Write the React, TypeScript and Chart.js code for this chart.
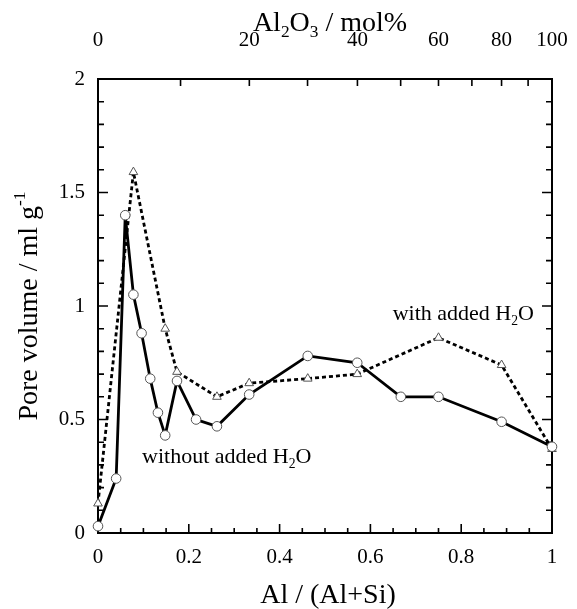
import React, { useEffect, useRef } from "react";
import { Chart, registerables } from "chart.js";

Chart.register(...registerables);

// ---- data ----
const ratioWithout = [0, 0.04, 0.06, 0.078, 0.096, 0.115, 0.132, 0.148, 0.174, 0.216, 0.262, 0.333, 0.462, 0.571, 0.667, 0.75, 0.889, 1];
const poreWithout = [0.03, 0.24, 1.4, 1.05, 0.88, 0.68, 0.53, 0.43, 0.67, 0.5, 0.47, 0.61, 0.78, 0.75, 0.6, 0.6, 0.49, 0.38];

const ratioWith = [0, 0.078, 0.148, 0.174, 0.262, 0.333, 0.462, 0.571, 0.75, 0.889, 1];
const poreWith = [0.13, 1.59, 0.9, 0.71, 0.6, 0.66, 0.68, 0.7, 0.86, 0.74, 0.37];

// top axis: Al2O3 mol% ticks and labels
const topMolTicks = [0, 10, 20, 30, 40, 50, 60, 70, 80, 90, 100];
const topMolLabels = ["0", "", "20", "", "40", "", "60", "", "80", "", "100"];

// minor / major tick values on the frame
const bottomTickValues = Array.from({ length: 21 }, (_, i) => i * 0.05);
const leftTickValues = Array.from({ length: 21 }, (_, i) => i * 0.1);

const FONT = "'Liberation Serif', 'Times New Roman', Times, serif";

type Seg = { t: string; s?: "sub" | "sup" };
const titleBottom: Seg[] = [{ t: "Al / (Al+Si)" }];
const titleTop: Seg[] = [{ t: "Al" }, { t: "2", s: "sub" }, { t: "O" }, { t: "3", s: "sub" }, { t: " / mol%" }];
const titleLeft: Seg[] = [{ t: "Pore volume / ml g" }, { t: "-1", s: "sup" }];
const labelWith: Seg[] = [{ t: "with added H" }, { t: "2", s: "sub" }, { t: "O" }];
const labelWithout: Seg[] = [{ t: "without added H" }, { t: "2", s: "sub" }, { t: "O" }];

const molToRatio = (m: number) => (2 * m) / (100 + m);
const fmt = (v: any) => `${+Number(v).toFixed(2)}`;

function segFont(seg: Seg, size: number) {
  const fs = seg.s ? size * 0.62 : size;
  return `${fs}px ${FONT}`;
}

function richWidth(ctx: CanvasRenderingContext2D, segs: Seg[], size: number) {
  let w = 0;
  for (const s of segs) {
    ctx.font = segFont(s, size);
    w += ctx.measureText(s.t).width;
  }
  return w;
}

function drawRich(
  ctx: CanvasRenderingContext2D,
  segs: Seg[],
  x: number,
  y: number,
  size: number,
  align: "left" | "center"
) {
  const w = richWidth(ctx, segs, size);
  let cx = align === "center" ? x - w / 2 : x;
  ctx.textAlign = "left";
  ctx.textBaseline = "alphabetic";
  for (const s of segs) {
    ctx.font = segFont(s, size);
    const dy = s.s === "sub" ? size * 0.22 : s.s === "sup" ? -size * 0.42 : 0;
    ctx.fillText(s.t, cx, y + dy);
    cx += ctx.measureText(s.t).width;
  }
}

const framePlugin = {
  id: "frameTicks",
  beforeDatasetsDraw(chart: any) {
    const { ctx, chartArea: a, scales } = chart;
    const x = scales.x;
    const x2 = scales.x2;
    const y = scales.y;
    ctx.save();
    ctx.strokeStyle = "#000";
    ctx.lineWidth = 1.6;
    ctx.beginPath();
    for (const v of bottomTickValues) {
      const px = x.getPixelForValue(v);
      const major = Math.abs(v / 0.2 - Math.round(v / 0.2)) < 1e-6;
      const len = major ? 9 : 5;
      ctx.moveTo(px, a.bottom);
      ctx.lineTo(px, a.bottom - len);
    }
    for (const m of topMolTicks) {
      const px = x2.getPixelForValue(molToRatio(m));
      ctx.moveTo(px, a.top);
      ctx.lineTo(px, a.top + 7);
    }
    for (const v of leftTickValues) {
      const py = y.getPixelForValue(v);
      const major = Math.abs(v / 0.5 - Math.round(v / 0.5)) < 1e-6;
      const len = major ? 10 : 6;
      ctx.moveTo(a.left, py);
      ctx.lineTo(a.left + len, py);
      ctx.moveTo(a.right, py);
      ctx.lineTo(a.right - len, py);
    }
    ctx.stroke();
    ctx.lineWidth = 2;
    ctx.strokeRect(a.left, a.top, a.right - a.left, a.bottom - a.top);
    ctx.restore();
  },
  afterDraw(chart: any) {
    const { ctx, chartArea: a, scales } = chart;
    const x = scales.x;
    const y = scales.y;
    ctx.save();
    ctx.fillStyle = "#000";
    const cx = (a.left + a.right) / 2 + 3;
    drawRich(ctx, titleBottom, cx, 603, 28, "center");
    drawRich(ctx, titleTop, cx + 2, 31, 28, "center");
    ctx.save();
    ctx.translate(37, (a.top + a.bottom) / 2);
    ctx.rotate(-Math.PI / 2);
    drawRich(ctx, titleLeft, 0, 0, 28, "center");
    ctx.restore();
    drawRich(ctx, labelWith, x.getPixelForValue(0.649), y.getPixelForValue(0.938), 22, "left");
    drawRich(ctx, labelWithout, x.getPixelForValue(0.097), y.getPixelForValue(0.308), 22, "left");
    ctx.restore();
  },
};

export default function App() {
  const ref = useRef<HTMLCanvasElement | null>(null);

  useEffect(() => {
    if (!ref.current) return;
    const tickFont = { family: FONT, size: 21 };
    const chart = new Chart(ref.current, {
      type: "scatter",
      data: {
        datasets: [
          {
            label: "without added H2O",
            data: ratioWithout.map((v, i) => ({ x: v, y: poreWithout[i] })),
            showLine: true,
            borderColor: "#000",
            borderWidth: 2.8,
            pointStyle: "circle",
            pointRadius: 4.8,
            pointBackgroundColor: "#fff",
            pointBorderColor: "#555",
            pointBorderWidth: 1,
            clip: false as any,
            order: 1,
          },
          {
            label: "with added H2O",
            data: ratioWith.map((v, i) => ({ x: v, y: poreWith[i] })),
            showLine: true,
            borderColor: "#000",
            borderWidth: 2.8,
            borderDash: [4, 3],
            pointStyle: "triangle",
            pointRadius: 5,
            pointBackgroundColor: "#fff",
            pointBorderColor: "#555",
            pointBorderWidth: 1,
            clip: false as any,
            order: 2,
          },
        ],
      },
      options: {
        animation: false,
        responsive: false,
        maintainAspectRatio: false,
        layout: { padding: 0 },
        events: [],
        plugins: { legend: { display: false }, tooltip: { enabled: false } },
        scales: {
          x: {
            type: "linear",
            position: "bottom",
            min: 0,
            max: 1,
            grid: { display: false, drawTicks: true, tickLength: 12 },
            border: { display: false },
            ticks: { stepSize: 0.2, font: tickFont, color: "#000", padding: 0, maxRotation: 0, minRotation: 0, callback: fmt },
            afterFit: (s: any) => {
              s.height = 76;
            },
          },
          x2: {
            type: "linear",
            position: "top",
            min: 0,
            max: 1,
            grid: { display: false, drawTicks: true, tickLength: 26 },
            border: { display: false },
            afterBuildTicks: (s: any) => {
              s.ticks = topMolTicks.map((m) => ({ value: molToRatio(m) }));
            },
            ticks: {
              autoSkip: false,
              font: tickFont,
              color: "#000",
              padding: 0,
              maxRotation: 0,
              minRotation: 0,
              callback: (_v: any, i: number) => topMolLabels[i],
            },
            afterFit: (s: any) => {
              s.height = 79;
            },
          },
          y: {
            type: "linear",
            position: "left",
            min: 0,
            max: 2,
            grid: { display: false, drawTicks: true, tickLength: 13 },
            border: { display: false },
            ticks: { stepSize: 0.5, font: tickFont, color: "#000", padding: 0, callback: fmt },
            afterFit: (s: any) => {
              s.width = 98;
            },
          },
          y2: {
            type: "linear",
            position: "right",
            min: 0,
            max: 2,
            grid: { display: false, drawTicks: false },
            border: { display: false },
            ticks: { display: false },
            afterFit: (s: any) => {
              s.width = 25;
            },
          },
        },
      } as any,
      plugins: [framePlugin],
    });
    return () => chart.destroy();
  }, []);

  return (
    <div style={{ position: "fixed", left: 0, top: 0, width: 577, height: 609, background: "#fff" }}>
      <canvas ref={ref} width={577} height={609} style={{ display: "block" }} />
    </div>
  );
}
